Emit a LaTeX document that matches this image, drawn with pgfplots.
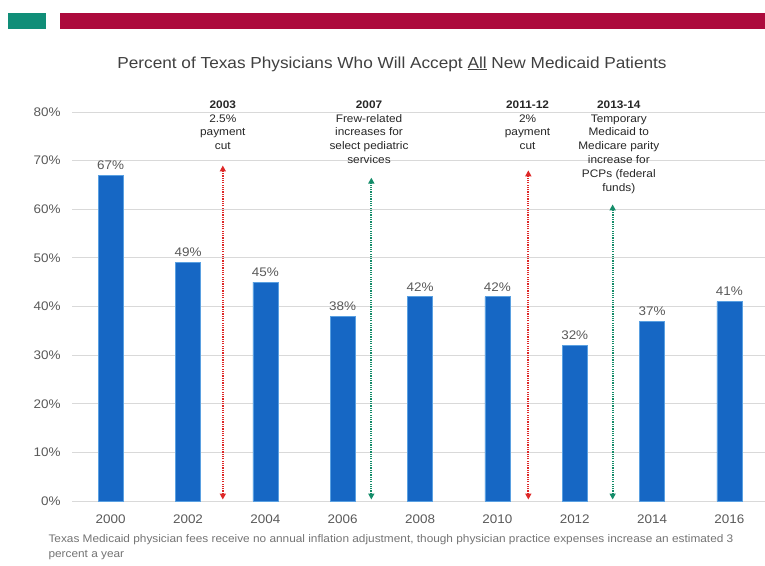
\documentclass[border=0pt]{standalone}
\usepackage{fontspec}
\setmainfont{Liberation Sans}[FakeStretch=1.08]
\usepackage{pgfplots}
\pgfplotsset{compat=1.18}
\usetikzlibrary{arrows.meta}

\definecolor{barblue}{RGB}{22,103,196}
\definecolor{baredge}{RGB}{90,160,225}
\definecolor{labelgray}{RGB}{89,89,89}
\definecolor{gridgray}{RGB}{217,217,217}
\definecolor{topteal}{RGB}{16,142,120}
\definecolor{topred}{RGB}{172,10,60}
\definecolor{arrred}{RGB}{222,40,40}
\definecolor{arrgreen}{RGB}{20,140,105}
\definecolor{notegray}{RGB}{115,115,115}
\definecolor{titlegray}{RGB}{64,64,64}

\begin{document}
\begin{tikzpicture}
\useasboundingbox (0,0) rectangle (765bp,566bp);
% header strip
\fill[topteal] (8bp,537bp) rectangle (46bp,553bp);
\fill[topred] (60bp,537bp) rectangle (765bp,553bp);
\node[text=titlegray, font=\fontsize{16}{19}\selectfont] at (392bp,502bp)
  {Percent of Texas Physicians Who Will Accept \underline{All} New Medicaid Patients};

\begin{axis}[
at={(72bp,65bp)}, anchor=south west,
scale only axis,
width=693bp, height=389bp,
clip=false,
xmin=-0.5, xmax=8.46,
ymin=0, ymax=80,
xtick={0,...,8},
xticklabels={2000,2002,2004,2006,2008,2010,2012,2014,2016},
ytick={0,10,...,80},
yticklabel={\pgfmathprintnumber{\tick}\%},
/pgf/number format/assume math mode=true,
ticklabel style={font=\fontsize{12.5}{15}\selectfont, text=labelgray},
xticklabel style={yshift=-10bp},
yticklabel style={xshift=-8bp},
tick style={draw=none},
axis line style={draw=none},
ymajorgrids,
grid style={gridgray, line width=0.8bp},
]
\addplot[ybar, bar width=25bp, fill=barblue, draw=baredge, line width=0.6bp,
  nodes near coords={\pgfmathprintnumber{\pgfplotspointmeta}\%},
  nodes near coords style={font=\fontsize{12.5}{15}\selectfont, text=labelgray, yshift=2bp}]
coordinates {(0,67) (1,49) (2,45) (3,38) (4,42) (5,42) (6,32) (7,37) (8,41)};

% policy arrows
\addplot[arrred, line width=1.9bp, dash pattern=on 1.2bp off 1.1bp,
  {Triangle[length=6bp,width=6bp]}-{Triangle[length=6bp,width=6bp]}]
  coordinates {(1.45,0.3) (1.45,69)};
\addplot[arrgreen, line width=1.9bp, dash pattern=on 1.2bp off 1.1bp,
  {Triangle[length=6bp,width=6bp]}-{Triangle[length=6bp,width=6bp]}]
  coordinates {(3.37,0.3) (3.37,66.5)};
\addplot[arrred, line width=1.9bp, dash pattern=on 1.2bp off 1.1bp,
  {Triangle[length=6bp,width=6bp]}-{Triangle[length=6bp,width=6bp]}]
  coordinates {(5.40,0.3) (5.40,68)};
\addplot[arrgreen, line width=1.9bp, dash pattern=on 1.2bp off 1.1bp,
  {Triangle[length=6bp,width=6bp]}-{Triangle[length=6bp,width=6bp]}]
  coordinates {(6.49,0.3) (6.49,61)};

\node[anchor=north, align=center, font=\fontsize{11}{14}\selectfont, text=black!85]
  at (axis cs:1.45,83.1) {\textbf{2003}\\2.5\%\\payment\\cut};
\node[anchor=north, align=center, font=\fontsize{11}{14}\selectfont, text=black!85]
  at (axis cs:3.34,83.1) {\textbf{2007}\\Frew-related\\increases for\\select pediatric\\services};
\node[anchor=north, align=center, font=\fontsize{11}{14}\selectfont, text=black!85]
  at (axis cs:5.39,83.1) {\textbf{2011-12}\\2\%\\payment\\cut};
\node[anchor=north, align=center, font=\fontsize{11}{14}\selectfont, text=black!85]
  at (axis cs:6.57,83.1) {\textbf{2013-14}\\Temporary\\Medicaid to\\Medicare parity\\increase for\\PCPs (federal\\funds)};
\end{axis}

\node[anchor=base west, text=notegray, font=\fontsize{11}{13}\selectfont] at (45bp,24bp)
  {Texas Medicaid physician fees receive no annual inflation adjustment, though physician practice expenses increase an estimated 3};
\node[anchor=base west, text=notegray, font=\fontsize{11}{13}\selectfont] at (45bp,9bp)
  {percent a year};
\end{tikzpicture}
\end{document}
